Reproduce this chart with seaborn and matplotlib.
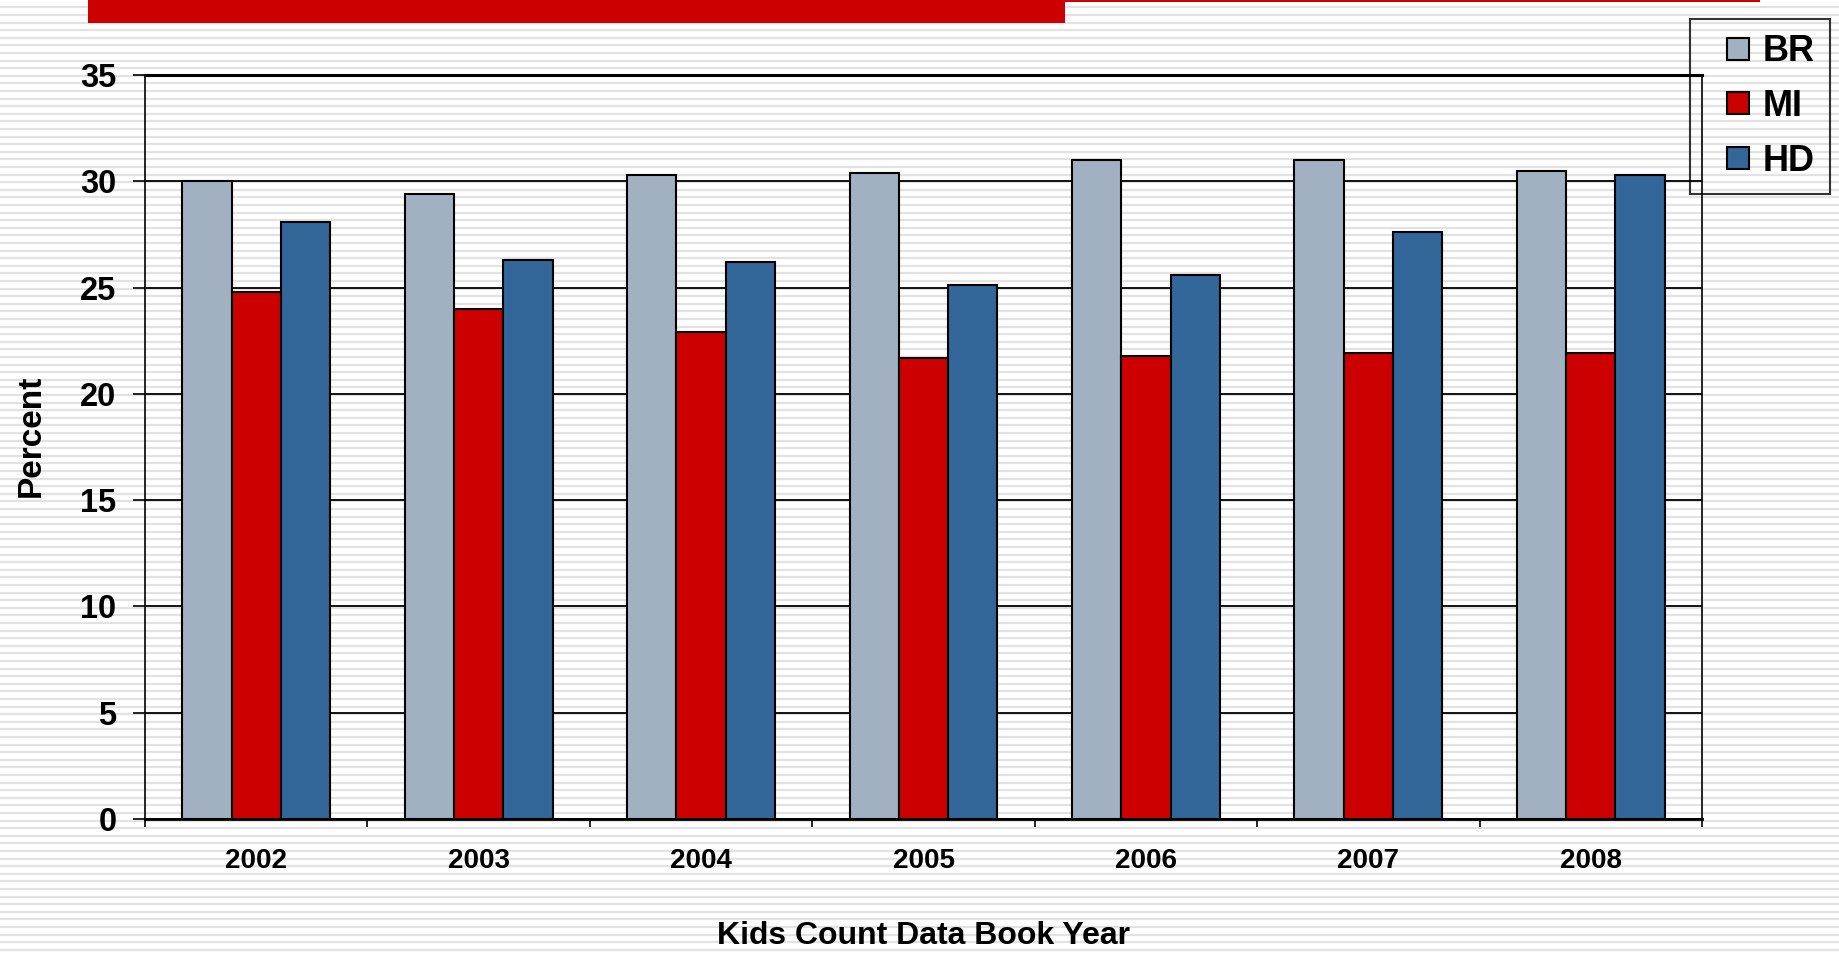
import numpy as np
import pandas as pd
import matplotlib
matplotlib.use("Agg")
import matplotlib.pyplot as plt
from matplotlib.patches import Rectangle
from matplotlib.lines import Line2D
import seaborn as sns

years = ["2002", "2003", "2004", "2005", "2006", "2007", "2008"]
br = [30.0, 29.4, 30.3, 30.4, 31.0, 31.0, 30.5]
mi = [24.8, 24.0, 22.9, 21.7, 21.8, 21.9, 21.9]
hd = [28.1, 26.3, 26.2, 25.1, 25.6, 27.6, 30.3]
series = ["BR", "MI", "HD"]
colors = ["#A2B1C1", "#CC0000", "#336699"]
yticks = [0, 5, 10, 15, 20, 25, 30, 35]

df = pd.DataFrame({
    "Year": years * 3,
    "Series": ["BR"] * 7 + ["MI"] * 7 + ["HD"] * 7,
    "Value": br + mi + hd,
})

sns.set_theme(style="white")
plt.rcParams["font.family"] = ["Liberation Sans", "DejaVu Sans"]
plt.rcParams["font.weight"] = "bold"
plt.rcParams["text.color"] = "black"
plt.rcParams["axes.labelcolor"] = "black"
plt.rcParams["xtick.color"] = "black"
plt.rcParams["ytick.color"] = "black"

W, H = 1839, 955
fig = plt.figure(figsize=(W / 100, H / 100), dpi=100)
fig.patch.set_facecolor("white")

# striped background and red banner
bg = fig.add_axes([0, 0, 1, 1], zorder=-5)
bg.set_xlim(0, W)
bg.set_ylim(H, 0)
bg.axis("off")
ys = np.arange(7.4, H, 7.6)
bg.hlines(ys, 0, W, color="#E2E2E2", lw=1.6, zorder=1)
bg.add_patch(Rectangle((88, 0), 1065 - 88, 23.5, color="#CC0000", lw=0, zorder=3))
bg.add_patch(Rectangle((1065, 0), 1760 - 1065, 2.5, color="#CC0000", lw=0, zorder=3))

ax = fig.add_axes([145 / W, 1 - 819 / H, (1702 - 145) / W, (819 - 75) / H])
ax.set_facecolor("none")
sns.barplot(data=df, x="Year", y="Value", hue="Series", hue_order=series,
            palette=colors, width=0.665, edgecolor="black", linewidth=1.5,
            saturation=1, ax=ax, legend=False)

ax.set_ylim(0, 35)
ax.set_xlim(-0.5, 6.5)
ax.set_yticks(yticks)
ax.set_yticklabels([str(t) for t in yticks], fontsize=23.5, fontweight="bold")
ax.set_xticks(range(len(years)))
ax.set_xticklabels(years, fontsize=20, fontweight="bold")
ax.set_xticks(np.arange(-0.5, 7, 1), minor=True)
ax.tick_params(axis="x", which="major", length=0, pad=21)
ax.tick_params(axis="x", which="minor", length=6, width=1.2, direction="out", color="black", bottom=True)
ax.tick_params(axis="y", which="major", length=8.5, width=1.2, direction="out", color="black", pad=12, left=True)

ax.set_axisbelow(True)
ax.yaxis.grid(True, color="black", lw=1.3)
for s in ["left", "right", "bottom", "top"]:
    ax.spines[s].set_visible(True)
    ax.spines[s].set_color("black")
ax.spines["left"].set_linewidth(1.2)
ax.spines["right"].set_linewidth(1.2)
ax.spines["bottom"].set_linewidth(2.0)
ax.spines["top"].set_linewidth(2.2)

ax.set_ylabel("Percent", fontsize=24, fontweight="bold")
ax.set_xlabel("Kids Count Data Book Year", fontsize=23, fontweight="bold")
ax.yaxis.set_label_coords(-(145 - 47) / (1702 - 145), (819 - 436) / (819 - 75))
ax.xaxis.set_label_coords(0.5, -(921 - 819) / (819 - 75))

handles = [Line2D([], [], ls="none", marker="s", markersize=16.3,
                  markerfacecolor=c, markeredgecolor="black", markeredgewidth=1.5)
           for c in colors]
leg = fig.legend(handles, series, loc="upper left",
                 bbox_to_anchor=(1690 / W, 1 - 19 / H), bbox_transform=fig.transFigure,
                 frameon=True, fancybox=False,
                 prop={"weight": "bold", "size": 26},
                 handlelength=1.83, handletextpad=-0.24,
                 labelspacing=0.55, borderpad=0.42, borderaxespad=0)
leg.get_frame().set_edgecolor("black")
leg.get_frame().set_linewidth(1.5)
leg.get_frame().set_facecolor("none")

fig.savefig("out.png", dpi=100)
